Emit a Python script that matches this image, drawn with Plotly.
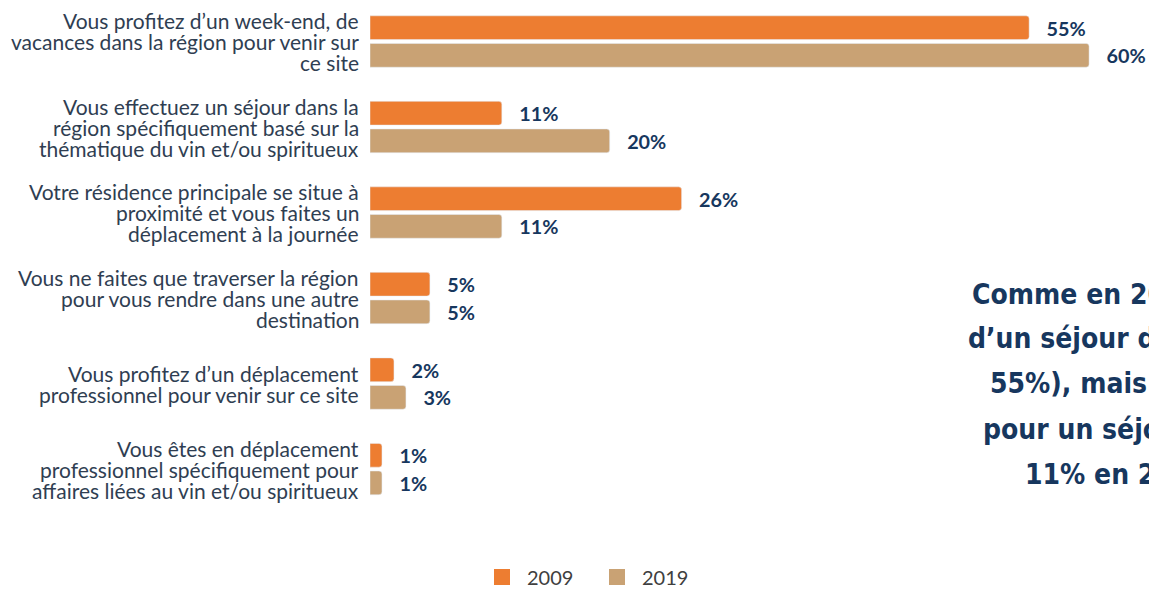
import plotly.graph_objects as go

# categories (top to bottom), line breaks as in the original labels
categories = [
    "Vous profitez d\u2019un week-end, de\nvacances dans la région pour venir sur\nce site",
    "Vous effectuez un séjour dans la\nrégion spécifiquement basé sur la\nthématique du vin et/ou spiritueux",
    "Votre résidence principale se situe à\nproximité et vous faites un\ndéplacement à la journée",
    "Vous ne faites que traverser la région\npour vous rendre dans une autre\ndestination",
    "Vous profitez d\u2019un déplacement\nprofessionnel pour venir sur ce site",
    "Vous êtes en déplacement\nprofessionnel spécifiquement pour\naffaires liées au vin et/ou spiritueux",
]
values_2009 = [55, 11, 26, 5, 2, 1]
values_2019 = [60, 20, 11, 5, 3, 1]

comment_lines = [
    "Comme en 2009, la majorité des visiteurs profitent",
    "d\u2019un séjour dans la région (60% vs",
    "55%), mais ils sont plus nombreux",
    "pour un séjour thématique (20% vs",
    "11% en 2009)",
]

ORANGE = "#ED7D31"
TAN = "#C9A274"
NAVY = "#17375E"
LABEL = "#2F3E52"

# page is offset by the 8px body margin
L, W, H = 362, 779, 511


def px_x(x):
    return (x - 8 - L) / W


def px_y(y):
    return 1 - (y - 8) / H


fig = go.Figure()
for name, vals, color in [("2009", values_2009, ORANGE), ("2019", values_2019, TAN)]:
    fig.add_trace(go.Bar(
        y=categories, x=vals, name=name, orientation="h",
        marker=dict(color=color, cornerradius=3),
        texttemplate="\u00a0\u00a0\u00a0%{x}%",
        textposition="outside",
        textfont=dict(family="Lato", size=20, color=NAVY, weight="bold"),
        cliponaxis=False, showlegend=False,
    ))
    # legend swatch
    fig.add_trace(go.Scatter(
        x=[None], y=[None], mode="markers", name=name,
        marker=dict(symbol="square", size=20, color=color),
    ))

# category labels, one annotation per line for tighter line spacing
for i, cat in enumerate(categories):
    lines = cat.split("\n")
    n = len(lines)
    for j, line in enumerate(lines):
        fig.add_annotation(
            text=line, xref="paper", yref="y", x=0, y=i,
            xanchor="right", yanchor="middle", xshift=-9,
            yshift=((n - 1) / 2 - j) * 21, showarrow=False,
            font=dict(family="Lato", size=21, color=LABEL),
        )

# commentary on the right, cut off by the page edge like the original
line_x = [970, 966, 988, 981, 1023]
line_y = [298, 343, 389, 435, 481]
for txt, lx, ly in zip(comment_lines, line_x, line_y):
    fig.add_annotation(
        text="<b>" + txt + "</b>", xref="paper", yref="paper",
        x=px_x(lx), y=px_y(ly),
        xanchor="left", yanchor="middle", showarrow=False,
        font=dict(family="DejaVu Sans Condensed", size=28, color=NAVY),
    )

fig.update_layout(
    width=1157, height=589,
    margin=dict(l=L, r=1157 - L - W, t=0, b=589 - H),
    paper_bgcolor="white", plot_bgcolor="white",
    barmode="group", bargap=0.354, bargroupgap=0.14,
    legend=dict(orientation="h", x=px_x(592), xanchor="center", y=px_y(585), yanchor="middle",
                font=dict(family="Lato", size=20, color="#404040"),
                traceorder="normal", itemwidth=40, entrywidth=60),
    font=dict(family="Lato"),
)
fig.update_xaxes(range=[0, 65], visible=False)
fig.update_yaxes(range=[5.502, -0.392], showgrid=False, zeroline=False, showline=False,
                 showticklabels=False, ticks="")

fig.write_html("out.html")
